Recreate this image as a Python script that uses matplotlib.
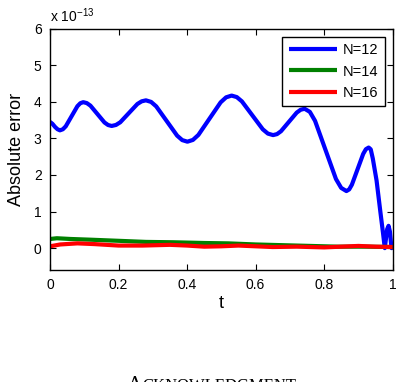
import matplotlib
matplotlib.use("Agg")
import matplotlib.pyplot as plt

plt.rcParams['font.family'] = ['Liberation Sans', 'DejaVu Sans']
plt.rcParams['mathtext.fontset'] = 'custom'
plt.rcParams['mathtext.rm'] = 'Liberation Sans'

# values (units of 1e-13)
t_n12 = [0.000, 0.007, 0.015, 0.022, 0.029, 0.0375, 0.046, 0.063, 0.080, 0.0885,
         0.097, 0.1074, 0.118, 0.1385, 0.159, 0.1696, 0.180, 0.1925, 0.205, 0.230,
         0.255, 0.2675, 0.280, 0.2951, 0.310, 0.3405, 0.371, 0.3859, 0.401, 0.4171,
         0.433, 0.4655, 0.498, 0.5139, 0.530, 0.5451, 0.560, 0.5905, 0.621, 0.6359,
         0.651, 0.6625, 0.674, 0.697, 0.720, 0.7315, 0.743, 0.7583, 0.7735, 0.804,
         0.8345, 0.8498, 0.865, 0.8731, 0.881, 0.8975, 0.914, 0.9219, 0.930, 0.936,
         0.942, 0.953, 0.964, 0.972, 0.977, 0.981, 0.984, 0.988, 0.992, 0.995,
         0.997, 1.000]
err_n12 = [3.45, 3.40, 3.31, 3.25, 3.22, 3.249, 3.33, 3.605, 3.88, 3.961,
           3.99, 3.965, 3.895, 3.665, 3.435, 3.365, 3.34, 3.367, 3.44, 3.69,
           3.94, 4.013, 4.04, 3.997, 3.875, 3.475, 3.075, 2.953, 2.91, 2.958,
           3.094, 3.54, 3.986, 4.122, 4.17, 4.129, 4.012, 3.63, 3.248, 3.131,
           3.09, 3.117, 3.195, 3.45, 3.705, 3.783, 3.81, 3.725, 3.48, 2.685,
           1.89, 1.646, 1.56, 1.605, 1.734, 2.155, 2.576, 2.705, 2.75, 2.70,
           2.45, 1.85, 1.00, 0.40, 0.00, 0.30, 0.52, 0.61, 0.45, 0.15,
           0.00, 0.10]

t_n14 = [0.0, 0.02, 0.06, 0.12, 0.20, 0.28, 0.36, 0.45, 0.52, 0.60, 0.68, 0.76, 0.84, 0.92, 1.0]
err_n14 = [0.25, 0.27, 0.25, 0.23, 0.20, 0.17, 0.16, 0.14, 0.13, 0.10, 0.08, 0.06, 0.04, 0.04, 0.03]

t_n16 = [0.0, 0.03, 0.08, 0.13, 0.20, 0.27, 0.35, 0.40, 0.45, 0.50, 0.55, 0.60, 0.65, 0.72, 0.80, 0.85, 0.90, 0.95, 1.0]
err_n16 = [0.05, 0.10, 0.13, 0.11, 0.07, 0.07, 0.09, 0.07, 0.04, 0.05, 0.07, 0.05, 0.03, 0.04, 0.02, 0.04, 0.06, 0.04, 0.03]

fig = plt.figure(figsize=(3.98, 3.82), dpi=100)
ax = fig.add_axes([0.1256, 0.293, 0.861, 0.632])

line_kw = dict(lw=3.0, solid_joinstyle='round', solid_capstyle='butt')
ax.plot(t_n12, err_n12, color='#0000ff', label='N=12', **line_kw)
ax.plot(t_n14, err_n14, color='#008000', label='N=14', **line_kw)
ax.plot(t_n16, err_n16, color='#ff0000', label='N=16', **line_kw)

ax.set_xlim(0, 1)
ax.set_ylim(-0.6, 6)
ax.set_xticks([0, 0.2, 0.4, 0.6, 0.8, 1])
ax.set_xticklabels(['0', '0.2', '0.4', '0.6', '0.8', '1'])
ax.set_yticks(range(7))
ax.tick_params(direction='in', top=True, right=True, length=4, labelsize=10, pad=6)
for s in ax.spines.values():
    s.set_linewidth(1.0)

ax.set_xlabel('t', fontsize=13, labelpad=2)
ax.set_ylabel('Absolute error', fontsize=13, labelpad=6)
ax.text(0.0, 1.015, r'x 10$^{-13}$', transform=ax.transAxes, fontsize=10,
        ha='left', va='bottom')

leg = ax.legend(loc='upper right', fontsize=10.5, fancybox=False, framealpha=1,
                edgecolor='black', handlelength=3.3, borderaxespad=0.55,
                labelspacing=0.5, handletextpad=0.4, borderpad=0.45)
leg.get_frame().set_linewidth(1.0)

# page text below the figure, cut at the image edge
fig.text(128 / 398, 1 - 376 / 382, 'A', fontsize=14, family='Liberation Serif',
         ha='left', va='top')
fig.text(142 / 398, 1 - 378 / 382, 'CKNOWLEDGMENT', fontsize=12,
         family='Liberation Serif', ha='left', va='top')

fig.savefig('out.png', dpi=100)
